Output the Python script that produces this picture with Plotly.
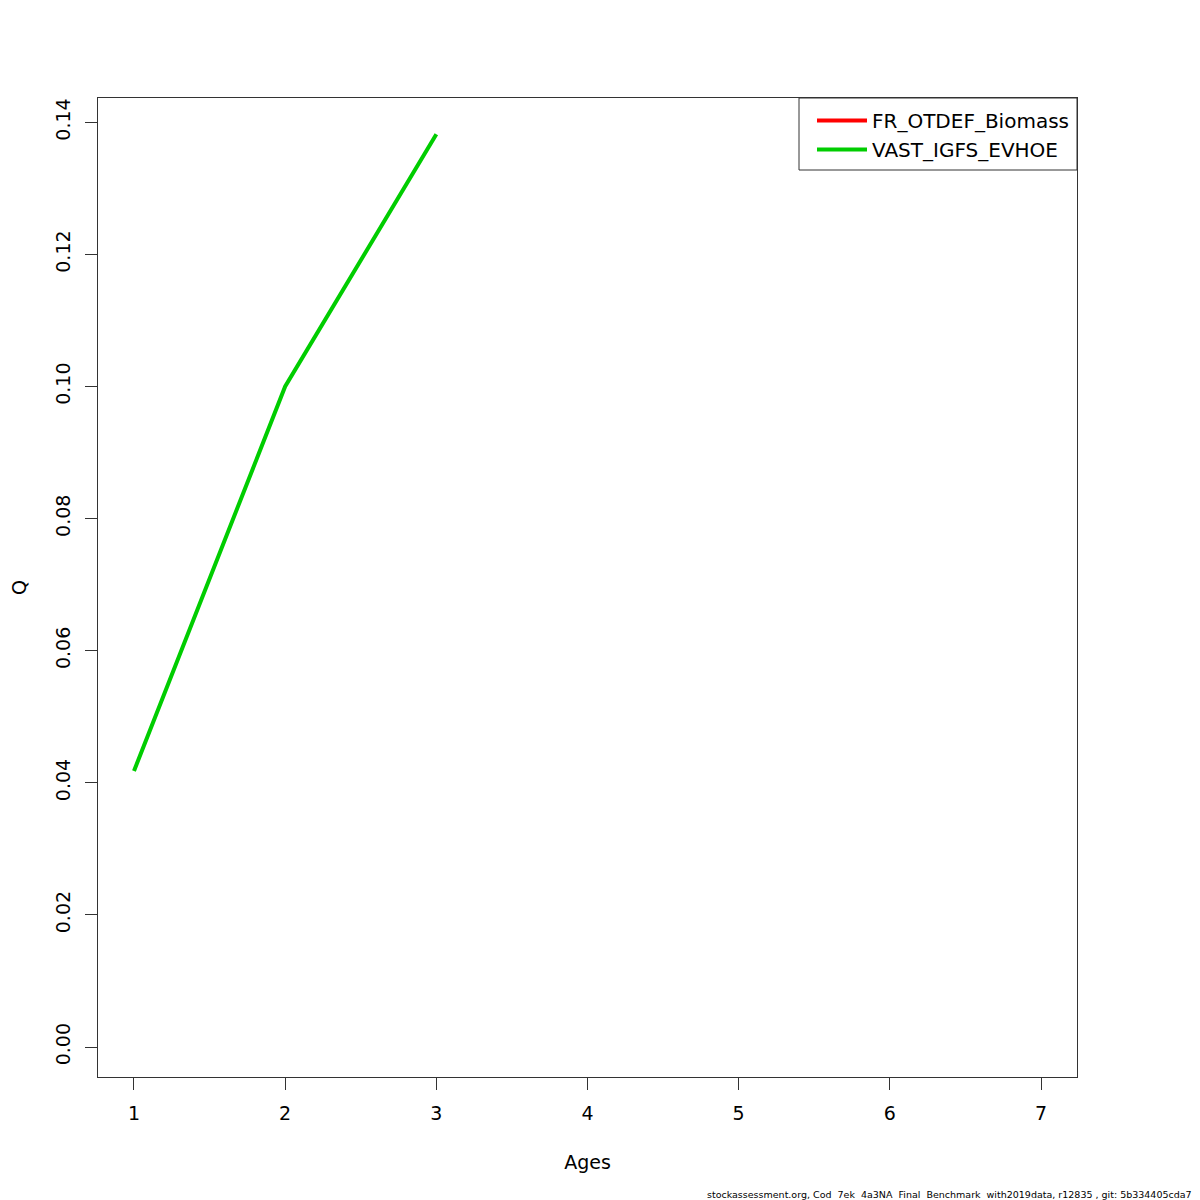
import plotly.graph_objects as go

ages = [1, 2, 3, 4, 5, 6, 7]
fr_otdef_biomass = [None, None, None, None, None, None, None]
vast_igfs_evhoe_ages = [1, 2, 3]
vast_igfs_evhoe = [0.0418, 0.1000, 0.1382]
y_ticks = [0.00, 0.02, 0.04, 0.06, 0.08, 0.10, 0.12, 0.14]
y_tick_labels = ["0.00", "0.02", "0.04", "0.06", "0.08", "0.10", "0.12", "0.14"]

font_family = "DejaVu Sans, Liberation Sans, sans-serif"

fig = go.Figure()
fig.add_trace(go.Scatter(x=ages, y=fr_otdef_biomass, mode="lines", name="FR_OTDEF_Biomass",
                         line=dict(color="#FF0000", width=4)))
fig.add_trace(go.Scatter(x=vast_igfs_evhoe_ages, y=vast_igfs_evhoe, mode="lines", name="VAST_IGFS_EVHOE",
                         line=dict(color="#00CD00", width=4)))

axis_common = dict(showline=True, linecolor="#333333", linewidth=1, mirror=True,
                   ticks="outside", ticklen=12, tickcolor="#333333", showgrid=False, zeroline=False,
                   ticklabelstandoff=7, automargin=False,
                   tickfont=dict(size=19, color="black", family=font_family))

L, R, T, B = 90, 131, 90, 131
plot_w = 1200 - L - R

fig.update_layout(
    width=1200, height=1200,
    paper_bgcolor="white", plot_bgcolor="white",
    margin=dict(l=L, r=R, t=T, b=B, autoexpand=False),
    font=dict(family=font_family, color="black", size=19),
    xaxis=dict(range=[0.7619, 7.2381], tickvals=ages, ticktext=[str(a) for a in ages],
               title=dict(text="Ages", font=dict(size=19), standoff=32), **axis_common),
    yaxis=dict(range=[-0.00454, 0.14368], tickvals=y_ticks, ticktext=y_tick_labels, tickangle=-90,
               title=dict(text="Q", font=dict(size=19), standoff=26), **axis_common),
    legend=dict(x=(812 - 98) / plot_w, y=1 - 3 / plot_w, xanchor="left", yanchor="top", borderwidth=0,
                bgcolor="rgba(0,0,0,0)", font=dict(size=20), tracegroupgap=0, itemwidth=50),
    showlegend=True,
)

# legend frame
fig.add_shape(type="rect", xref="paper", yref="paper",
              x0=(799 - 98) / plot_w, x1=1, y0=(1077 - 170) / plot_w, y1=1,
              line=dict(color="#333333", width=1), fillcolor="rgba(0,0,0,0)", layer="above")

fig.add_annotation(text="stockassessment.org, Cod  7ek  4a3NA  Final  Benchmark  with2019data, r12835 , git: 5b334405cda7",
                   xref="paper", yref="paper", x=(1186 - L) / plot_w, y=-125 / plot_w,
                   xanchor="right", yanchor="bottom",
                   showarrow=False, font=dict(size=9.5, color="black"))

fig.write_html("out.html")
